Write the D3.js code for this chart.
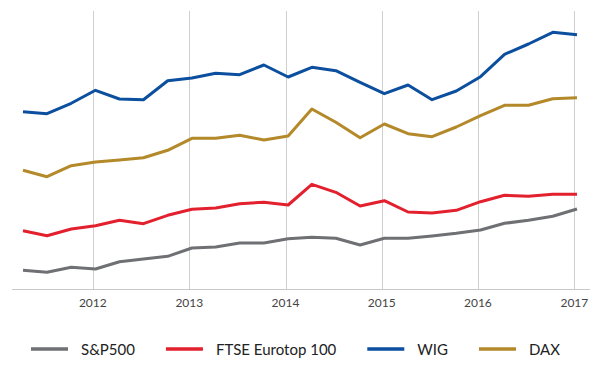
<!DOCTYPE html>
<html>
<head>
<meta charset="utf-8">
<script src="https://cdn.jsdelivr.net/npm/d3@7"></script>
<style>
  body { margin: 0; background: #fff; }
  svg { display: block; }
</style>
</head>
<body>
<div id="chart"></div>
<script>
// quarterly observations, Q2 2011 .. Q1 2017
var dates = ["2011-04-11","2011-07-11","2011-10-11","2012-01-11",
             "2012-04-11","2012-07-11","2012-10-11","2013-01-11",
             "2013-04-11","2013-07-11","2013-10-11","2014-01-11",
             "2014-04-11","2014-07-11","2014-10-11","2015-01-11",
             "2015-04-11","2015-07-11","2015-10-11","2016-01-11",
             "2016-04-11","2016-07-11","2016-10-11","2017-01-11"];

var yearTicks = [2012, 2013, 2014, 2015, 2016, 2017];

// relative levels (no axis shown)
var sp500 = [18.7, 16.7, 21.7, 20, 27.3, 30, 32.7, 41, 42, 46, 46, 50.3,
             51.7, 50.7, 44, 50.7, 50.7, 53, 55.7, 59, 65.7, 68.7, 72.7, 80];
var ftse = [58.3, 53.3, 60, 63.3, 68.7, 65.3, 73.7, 79.7, 81, 85.3, 86.7, 84,
            104.7, 96.7, 83, 88.3, 77, 76, 78.7, 87.3, 93.7, 92.7, 94.7, 94.7];
var wig = [177.3, 175.3, 185.7, 198.7, 190, 189.3, 208.3, 211, 215.7, 214.3, 224, 212,
           221.7, 218.3, 206.7, 195.3, 204, 189.3, 198, 212.3, 234.7, 245, 256.7, 254.3];
var dax = [118.7, 112.3, 123.3, 127, 129, 131.3, 138.7, 150.7, 150.7, 153.7, 149, 153,
           180, 166.7, 151.3, 165, 155.3, 152.3, 162, 173.3, 183.7, 183.7, 190.3, 191.3];

var seriesNames = ["S&P500", "FTSE Eurotop 100", "WIG", "DAX"];
var seriesColors = ["#6f7073", "#e3202e", "#0b4f9e", "#b3892a"];

var series = [sp500, ftse, wig, dax];

var svgWidth = 600, svgHeight = 371;
var plotTop = 11, plotBottom = 289;

var parseDate = d3.timeParse("%Y-%m-%d");
var parsed = dates.map(parseDate);

var svg = d3.select("#chart")
  .append("svg")
  .attr("width", svgWidth)
  .attr("height", svgHeight);

var xScale = d3.scaleTime()
  .domain([parsed[0], parsed[parsed.length - 1]])
  .range([23, 577]);

var yScale = d3.scaleLinear()
  .domain([0, 278])
  .range([plotBottom, plotTop]);

// vertical year gridlines
svg.append("g")
  .selectAll("line")
  .data(yearTicks)
  .enter()
  .append("line")
  .attr("x1", d => Math.round(xScale(new Date(d, 0, 1))) + 0.5)
  .attr("x2", d => Math.round(xScale(new Date(d, 0, 1))) + 0.5)
  .attr("y1", plotTop)
  .attr("y2", plotBottom)
  .attr("stroke", "#cfcfcf")
  .attr("stroke-width", 1);

// bottom axis line
svg.append("line")
  .attr("x1", 12).attr("x2", 590)
  .attr("y1", plotBottom + 0.5).attr("y2", plotBottom + 0.5)
  .attr("stroke", "#c8c8c8")
  .attr("stroke-width", 1);

// year labels
svg.append("g")
  .selectAll("text")
  .data(yearTicks)
  .enter()
  .append("text")
  .attr("x", d => xScale(new Date(d, 0, 1)))
  .attr("y", 307)
  .attr("text-anchor", "middle")
  .attr("font-family", "Lato, 'Open Sans', sans-serif")
  .attr("font-size", "12px")
  .attr("fill", "#444")
  .text(d => d);

// lines
var line = d3.line()
  .x((d, i) => xScale(parsed[i]))
  .y(d => yScale(d));

svg.append("g")
  .selectAll("path")
  .data(series)
  .enter()
  .append("path")
  .attr("d", line)
  .attr("fill", "none")
  .attr("stroke", (d, i) => seriesColors[i])
  .attr("stroke-width", 3)
  .attr("stroke-linejoin", "round");

// legend
var legend = svg.append("g");
var items = legend.selectAll("g")
  .data(seriesNames)
  .enter()
  .append("g");

items.append("line")
  .attr("x1", 0).attr("x2", 37)
  .attr("y1", 349).attr("y2", 349)
  .attr("stroke", (d, i) => seriesColors[i])
  .attr("stroke-width", 3.5);

items.append("text")
  .attr("x", 50)
  .attr("y", 355)
  .attr("font-family", "Lato, 'Open Sans', sans-serif")
  .attr("font-size", "15px")
  .attr("fill", "#222")
  .text(d => d);

var xPos = 0;
items.each(function() {
  var g = d3.select(this);
  var w = g.select("text").node().getComputedTextLength();
  g.attr("transform", `translate(${xPos},0)`);
  xPos += 50 + w + 31;
});
var totalW = xPos - 31;
legend.attr("transform", `translate(${Math.round(296 - totalW / 2)},0)`);
</script>
</body>
</html>
